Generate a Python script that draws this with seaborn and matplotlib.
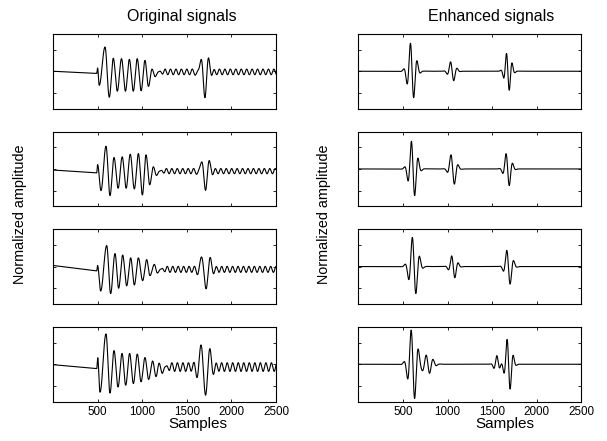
import numpy as np
import pandas as pd
import matplotlib
matplotlib.use("Agg")
import matplotlib.pyplot as plt
import seaborn as sns

# ------------------------------------------------------------------ data
n_samples = 2500
xticks = [500, 1000, 1500, 2000, 2500]
xtick_labels = ["500", "1000", "1500", "2000", "2500"]
yticks = [-1, 0, 1]

col_titles = ["Original signals", "Enhanced signals"]
x_label = "Samples"
y_label = "Normalized amplitude"

# --- Original signals (4 records) ---
# pre-onset drift
orig_onset = [490, 490, 490, 490]
orig_drift_start = [0.0, -0.05, 0.05, -0.02]
orig_drift_end = [-0.10, -0.18, -0.20, -0.20]
# first arrival: extrema (sample, value)
orig1_burst_t = [500, 518, 583, 631, 676, 721, 768, 812, 856, 900, 944, 988, 1031, 1070, 1110, 1145]
orig1_burst_v = [0.15, -0.65, 1.12, -1.20, 0.60, -0.92, 0.58, -0.92, 0.55, -0.92, 0.58, -0.90, 0.50, -0.70, 0.10, -0.25]
orig2_burst_t = [500, 538, 594, 639, 684, 730, 776, 820, 866, 912, 957, 1002, 1043, 1084, 1125, 1160]
orig2_burst_v = [0.20, -1.00, 1.05, -1.23, 0.53, -0.89, 0.56, -0.89, 0.68, -0.92, 0.71, -1.20, 0.65, -0.73, 0.10, -0.30]
orig3_burst_t = [500, 534, 602, 646, 695, 736, 781, 826, 871, 912, 957, 1005, 1050, 1087, 1136, 1170]
orig3_burst_v = [0.05, -1.13, 0.97, -1.25, 0.60, -1.00, 0.53, -0.89, 0.40, -0.85, 0.40, -0.65, 0.32, -0.42, 0.10, -0.30]
orig4_burst_t = [501, 527, 594, 639, 684, 729, 774, 815, 859, 901, 945, 987, 1031, 1072, 1117, 1155, 1190, 1225]
orig4_burst_v = [0.30, -1.29, 1.40, -1.33, 0.63, -1.05, 0.50, -0.97, 0.50, -0.89, 0.47, -0.81, 0.31, -0.70, 0.15, -0.57, 0.05, -0.42]
orig_burst_end = [1180, 1195, 1205, 1255]
# coda ripple
orig_ripple_offset = [-0.03, -0.10, -0.13, -0.13]
orig_ripple_amp = [0.13, 0.12, 0.14, 0.20]
orig_ripple_period = [61, 61, 61, 62]
# second arrival atom
orig_late_centre = [1697, 1704, 1708, 1700]
orig_late_amp = [-1.15, -0.95, -1.02, -1.50]
orig_late_period = [96, 92, 100, 100]
orig_late_width = [55, 52, 60, 68]
orig_late_phase = [-0.3, -0.3, -0.4, -0.6]

# --- Enhanced signals: wavelet atoms (centre, amp, period, width, phase) ---
enh1_centre = [600, 1052, 1679]
enh1_amp = [1.40, 0.50, 0.95]
enh1_period = [79, 80, 67]
enh1_width = [58, 50, 48]
enh1_phase = [1.35, 1.57, 1.80]

enh2_centre = [612, 1060, 1677]
enh2_amp = [1.40, 0.80, 0.85]
enh2_period = [80, 88, 80]
enh2_width = [58, 50, 50]
enh2_phase = [1.45, 1.75, 1.80]

enh3_centre = [622, 1066, 1686]
enh3_amp = [1.45, 0.58, 0.90]
enh3_period = [86, 80, 84]
enh3_width = [62, 50, 52]
enh3_phase = [1.30, 1.70, 1.80]

enh4_centre = [612, 780, 1553, 1685]
enh4_amp = [1.75, 0.45, 0.40, 1.30]
enh4_period = [84, 80, 75, 75]
enh4_width = [62, 70, 40, 50]
enh4_phase = [1.57, 1.57, 0.0, 1.57]

# ------------------------------------------------------------------ build traces
t = np.arange(1, n_samples + 1, dtype=float)


def atom(tt, c, a, p, w, ph):
    tau = tt - c
    return a * np.exp(-(tau / w) ** 2) * np.cos(2 * np.pi * tau / p + ph)


def extrema_curve(tt, knots_t, knots_v):
    y = np.zeros_like(tt)
    for (ta, tb), (va, vb) in zip(zip(knots_t[:-1], knots_t[1:]), zip(knots_v[:-1], knots_v[1:])):
        m = (tt >= ta) & (tt <= tb)
        s = (tt[m] - ta) / (tb - ta)
        y[m] = va + (vb - va) * (1 - np.cos(np.pi * s)) / 2
    return y


burst_t = [orig1_burst_t, orig2_burst_t, orig3_burst_t, orig4_burst_t]
burst_v = [orig1_burst_v, orig2_burst_v, orig3_burst_v, orig4_burst_v]

originals = []
for i in range(4):
    on, end = orig_onset[i], orig_burst_end[i]
    y = np.zeros_like(t)
    pre = t < on
    y[pre] = orig_drift_start[i] + (orig_drift_end[i] - orig_drift_start[i]) * t[pre] / on
    kt = [on] + burst_t[i] + [end]
    kv = [orig_drift_end[i]] + burst_v[i] + [orig_ripple_offset[i]]
    mid = (t >= on) & (t <= end)
    y[mid] = extrema_curve(t, kt, kv)[mid]
    post = t > end
    fade = np.clip((t[post] - end) / 60.0, 0, 1)
    y[post] = orig_ripple_offset[i] + orig_ripple_amp[i] * fade * np.sin(
        2 * np.pi * (t[post] - end) / orig_ripple_period[i])
    y += atom(t, orig_late_centre[i], orig_late_amp[i], orig_late_period[i],
              orig_late_width[i], orig_late_phase[i])
    originals.append(y)

enh_sets = [
    (enh1_centre, enh1_amp, enh1_period, enh1_width, enh1_phase),
    (enh2_centre, enh2_amp, enh2_period, enh2_width, enh2_phase),
    (enh3_centre, enh3_amp, enh3_period, enh3_width, enh3_phase),
    (enh4_centre, enh4_amp, enh4_period, enh4_width, enh4_phase),
]
enhanced = []
for cs, amps, ps, ws, phs in enh_sets:
    y = np.zeros_like(t)
    for c, a, p, w, ph in zip(cs, amps, ps, ws, phs):
        y += atom(t, c, a, p, w, ph)
    enhanced.append(y)

# ------------------------------------------------------------------ plot
sns.set_theme(style="ticks")
plt.rcParams["font.family"] = ["Liberation Sans", "DejaVu Sans"]
plt.rcParams["text.color"] = "black"
plt.rcParams["axes.labelcolor"] = "black"
plt.rcParams["xtick.color"] = "black"
plt.rcParams["ytick.color"] = "black"

W, H = 607, 441
fig = plt.figure(figsize=(W / 100, H / 100), dpi=100)

col_left = [53, 358.3]
ax_w = 223
row_top = [34, 131.7, 229.3, 327]
ax_h = 74.5

for r in range(4):
    for c in range(2):
        ax = fig.add_axes([col_left[c] / W, 1 - (row_top[r] + ax_h) / H, ax_w / W, ax_h / H])
        y = originals[r] if c == 0 else enhanced[r]
        df = pd.DataFrame({"Samples": t, "Amplitude": y})
        sns.lineplot(data=df, x="Samples", y="Amplitude", ax=ax, color="black",
                     linewidth=0.8, estimator=None, sort=False, legend=False)
        ax.set_xlim(0, n_samples)
        ax.set_ylim(-1.72, 1.72)
        ax.set_xticks(xticks)
        ax.set_yticks(yticks)
        ax.set_yticklabels([])
        if r == 3:
            ax.set_xticklabels(xtick_labels)
        else:
            ax.set_xticklabels([])
        ax.set_xlabel("")
        ax.set_ylabel("")
        ax.tick_params(direction="in", top=True, right=True, length=2.2, width=0.6,
                       labelsize=8.4, pad=3, colors="black", labelcolor="black")
        for sp in ax.spines.values():
            sp.set_linewidth(0.8)
            sp.set_color("black")
            sp.set_visible(True)
        ax.set_facecolor("white")

fig.text(182 / W, 1 - 17 / H, col_titles[0], ha="center", va="center", fontsize=11.5, color="black")
fig.text(491 / W, 1 - 17 / H, col_titles[1], ha="center", va="center", fontsize=11.5, color="black")
fig.text(198 / W, 1 - 424 / H, x_label, ha="center", va="center", fontsize=11, color="black")
fig.text(505 / W, 1 - 424 / H, x_label, ha="center", va="center", fontsize=11, color="black")
fig.text(20 / W, 1 - 214 / H, y_label, ha="center", va="center", rotation=90, fontsize=10.4, color="black")
fig.text(324 / W, 1 - 214 / H, y_label, ha="center", va="center", rotation=90, fontsize=10.4, color="black")

fig.savefig("out.png", dpi=100, facecolor="white")
